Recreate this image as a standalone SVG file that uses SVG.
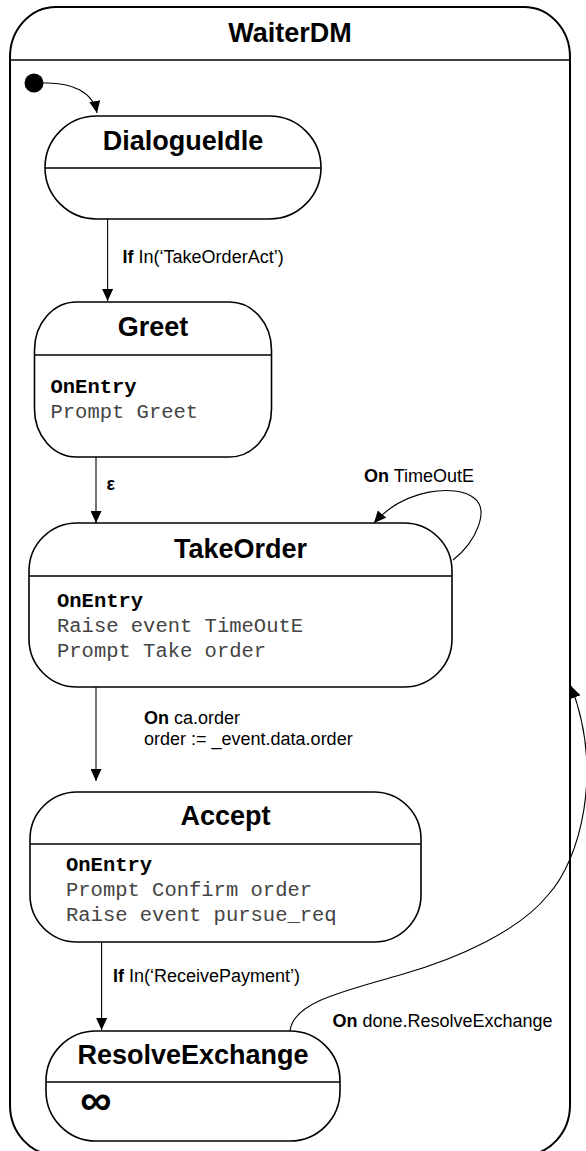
<svg xmlns="http://www.w3.org/2000/svg" width="586" height="1151" viewBox="0 0 586 1151">
<style>
.frame{fill:#fff;stroke:#000;stroke-width:2}
.state{fill:#fff;stroke:#000;stroke-width:1.6}
.div{stroke:#000;stroke-width:1.6}
.title{font-family:"Liberation Sans",Arial,sans-serif;font-weight:bold;font-size:27px;text-anchor:middle;fill:#000}
.body{font-family:"Liberation Mono","Courier New",monospace;font-size:20.5px;fill:#444}
.bodyb{font-family:"Liberation Mono","Courier New",monospace;font-size:20.5px;font-weight:bold;fill:#000}
.lbl{font-family:"Liberation Sans",Arial,sans-serif;font-size:18px;fill:#000}
.b{font-weight:bold}
.conn{fill:none;stroke:#000;stroke-width:1.1}
</style>
<defs>
<marker id="arr" markerUnits="userSpaceOnUse" markerWidth="13" markerHeight="11" refX="12" refY="5.5" orient="auto">
<path d="M0,0 L12,5.5 L0,11 z" fill="#000"/>
</marker>
</defs>
<g id="WaiterDM">
<rect class="frame" x="10" y="7" width="560" height="1148" rx="46" ry="50"/>
<line class="div" x1="10" y1="60" x2="570" y2="60" stroke-width="2"/>
<text class="title" x="290" y="42">WaiterDM</text>
</g>
<g id="initial">
<circle cx="34" cy="83" r="9.5" fill="#000"/>
</g>
<g id="DialogueIdle">
<rect class="state" x="45" y="116" width="276" height="103" rx="51.5"/>
<line class="div" x1="45" y1="168" x2="321" y2="168"/>
<text class="title" x="183" y="150">DialogueIdle</text>
</g>
<g id="Greet">
<rect class="state" x="34.5" y="302" width="237" height="155" rx="42" ry="48"/>
<line class="div" x1="34.5" y1="355" x2="271.5" y2="355"/>
<text class="title" x="153" y="336">Greet</text>
<text class="bodyb" x="50.5" y="393">OnEntry</text>
<text class="body" x="50.5" y="418">Prompt Greet</text>
</g>
<g id="TakeOrder">
<rect class="state" x="29" y="523" width="423" height="164" rx="48"/>
<line class="div" x1="29" y1="576" x2="452" y2="576"/>
<text class="title" x="240.5" y="558">TakeOrder</text>
<text class="bodyb" x="57" y="607">OnEntry</text>
<text class="body" x="57" y="632">Raise event TimeOutE</text>
<text class="body" x="57" y="657">Prompt Take order</text>
</g>
<g id="Accept">
<rect class="state" x="30" y="792" width="391" height="150" rx="47"/>
<line class="div" x1="30" y1="844" x2="421" y2="844"/>
<text class="title" x="225.5" y="825">Accept</text>
<text class="bodyb" x="66" y="871">OnEntry</text>
<text class="body" x="66" y="896">Prompt Confirm order</text>
<text class="body" x="66" y="921">Raise event pursue_req</text>
</g>
<g id="ResolveExchange">
<rect class="state" x="46" y="1031" width="294" height="110" rx="50"/>
<line class="div" x1="46" y1="1082" x2="340" y2="1082"/>
<text class="title" x="193" y="1064">ResolveExchange</text>
<text x="80" y="1115" font-family="Liberation Sans,Arial,sans-serif" font-weight="bold" font-size="44px">∞</text>
</g>
<g id="connectors">
<path class="conn" d="M43,83 C72,82 93,92 97,113" marker-end="url(#arr)"/>
<line class="conn" x1="107.6" y1="219" x2="107.6" y2="301" marker-end="url(#arr)"/>
<text class="lbl" x="122.6" y="263"><tspan class="b">If</tspan> In(‘TakeOrderAct’)</text>
<line class="conn" x1="96" y1="457" x2="96" y2="523" marker-end="url(#arr)"/>
<text class="lbl b" x="106.5" y="490">ε</text>
<path class="conn" d="M453,560 C476,542 490,510 474,498 C456,484 405,488 374,523" marker-end="url(#arr)"/>
<text class="lbl" x="364" y="482"><tspan class="b">On</tspan> TimeOutE</text>
<line class="conn" x1="96" y1="687" x2="96" y2="781" marker-end="url(#arr)"/>
<text class="lbl" x="144" y="724"><tspan class="b">On</tspan> ca.order</text>
<text class="lbl" x="144" y="745">order := _event.data.order</text>
<line class="conn" x1="101.6" y1="942" x2="101.6" y2="1030" marker-end="url(#arr)"/>
<text class="lbl" x="113" y="982"><tspan class="b">If</tspan> In(‘ReceivePayment’)</text>
<path class="conn" d="M290,1031 C293,1003 340,992 400,975 C460,958 520,930 548,895 C580,860 604,772 571,686" marker-end="url(#arr)"/>
<text class="lbl" x="332.5" y="1027"><tspan class="b">On</tspan> done.ResolveExchange</text>
</g>
</svg>
